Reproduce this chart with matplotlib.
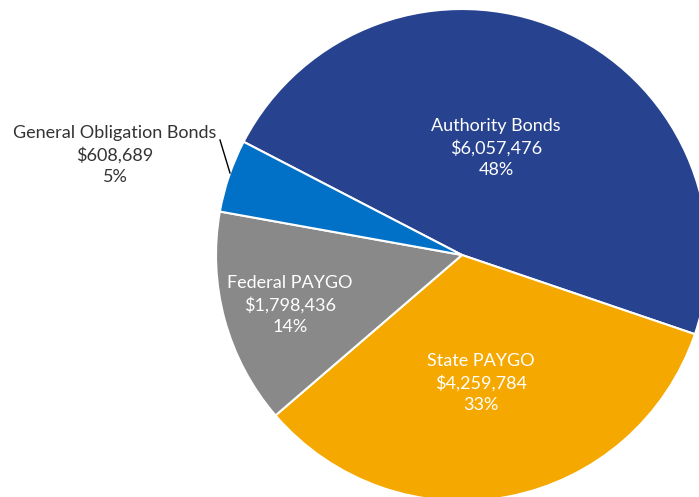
import matplotlib
matplotlib.use("Agg")
import matplotlib.pyplot as plt

categories = ["Authority Bonds", "State PAYGO", "Federal PAYGO", "General Obligation Bonds"]
values = [6057476, 4259784, 1798436, 608689]
pct_labels = ["48%", "33%", "14%", "5%"]
colors = ["#27428F", "#F5A800", "#898989", "#0071C7"]

W, H = 699, 497
fig = plt.figure(figsize=(W / 100, H / 100), dpi=100)
ax = fig.add_axes([0, 0, 1, 1])

cx, cy, R = 462, 255, 246  # pixel layout (y from top)
ax.pie(values, colors=colors, startangle=152.6, counterclock=False,
       center=(0, 0), radius=1.0,
       wedgeprops=dict(edgecolor="white", linewidth=1.5))
ax.set_aspect("auto")
ax.set_xlim((0 - cx) / R, (W - cx) / R)
ax.set_ylim(-(H - cy) / R, cy / R)
ax.axis("off")

font = ["Lato", "DejaVu Sans"]
label_pos = [(496, 148, "white"), (481, 383, "white"), (290, 305, "white"), (115, 155, "#333333")]
for cat, v, p, (px, py, col) in zip(categories, values, pct_labels, label_pos):
    txt = f"{cat}\n${v:,}\n{p}"
    fig.text(px / W, 1 - py / H, txt, ha="center", va="center", color=col,
             fontsize=13, family=font, linespacing=1.4)

# leader line for General Obligation Bonds
ax.plot([(220 - cx) / R, (230 - cx) / R], [-(140 - cy) / R, -(173 - cy) / R],
        color="black", linewidth=1)

fig.savefig("out.png", dpi=100)
